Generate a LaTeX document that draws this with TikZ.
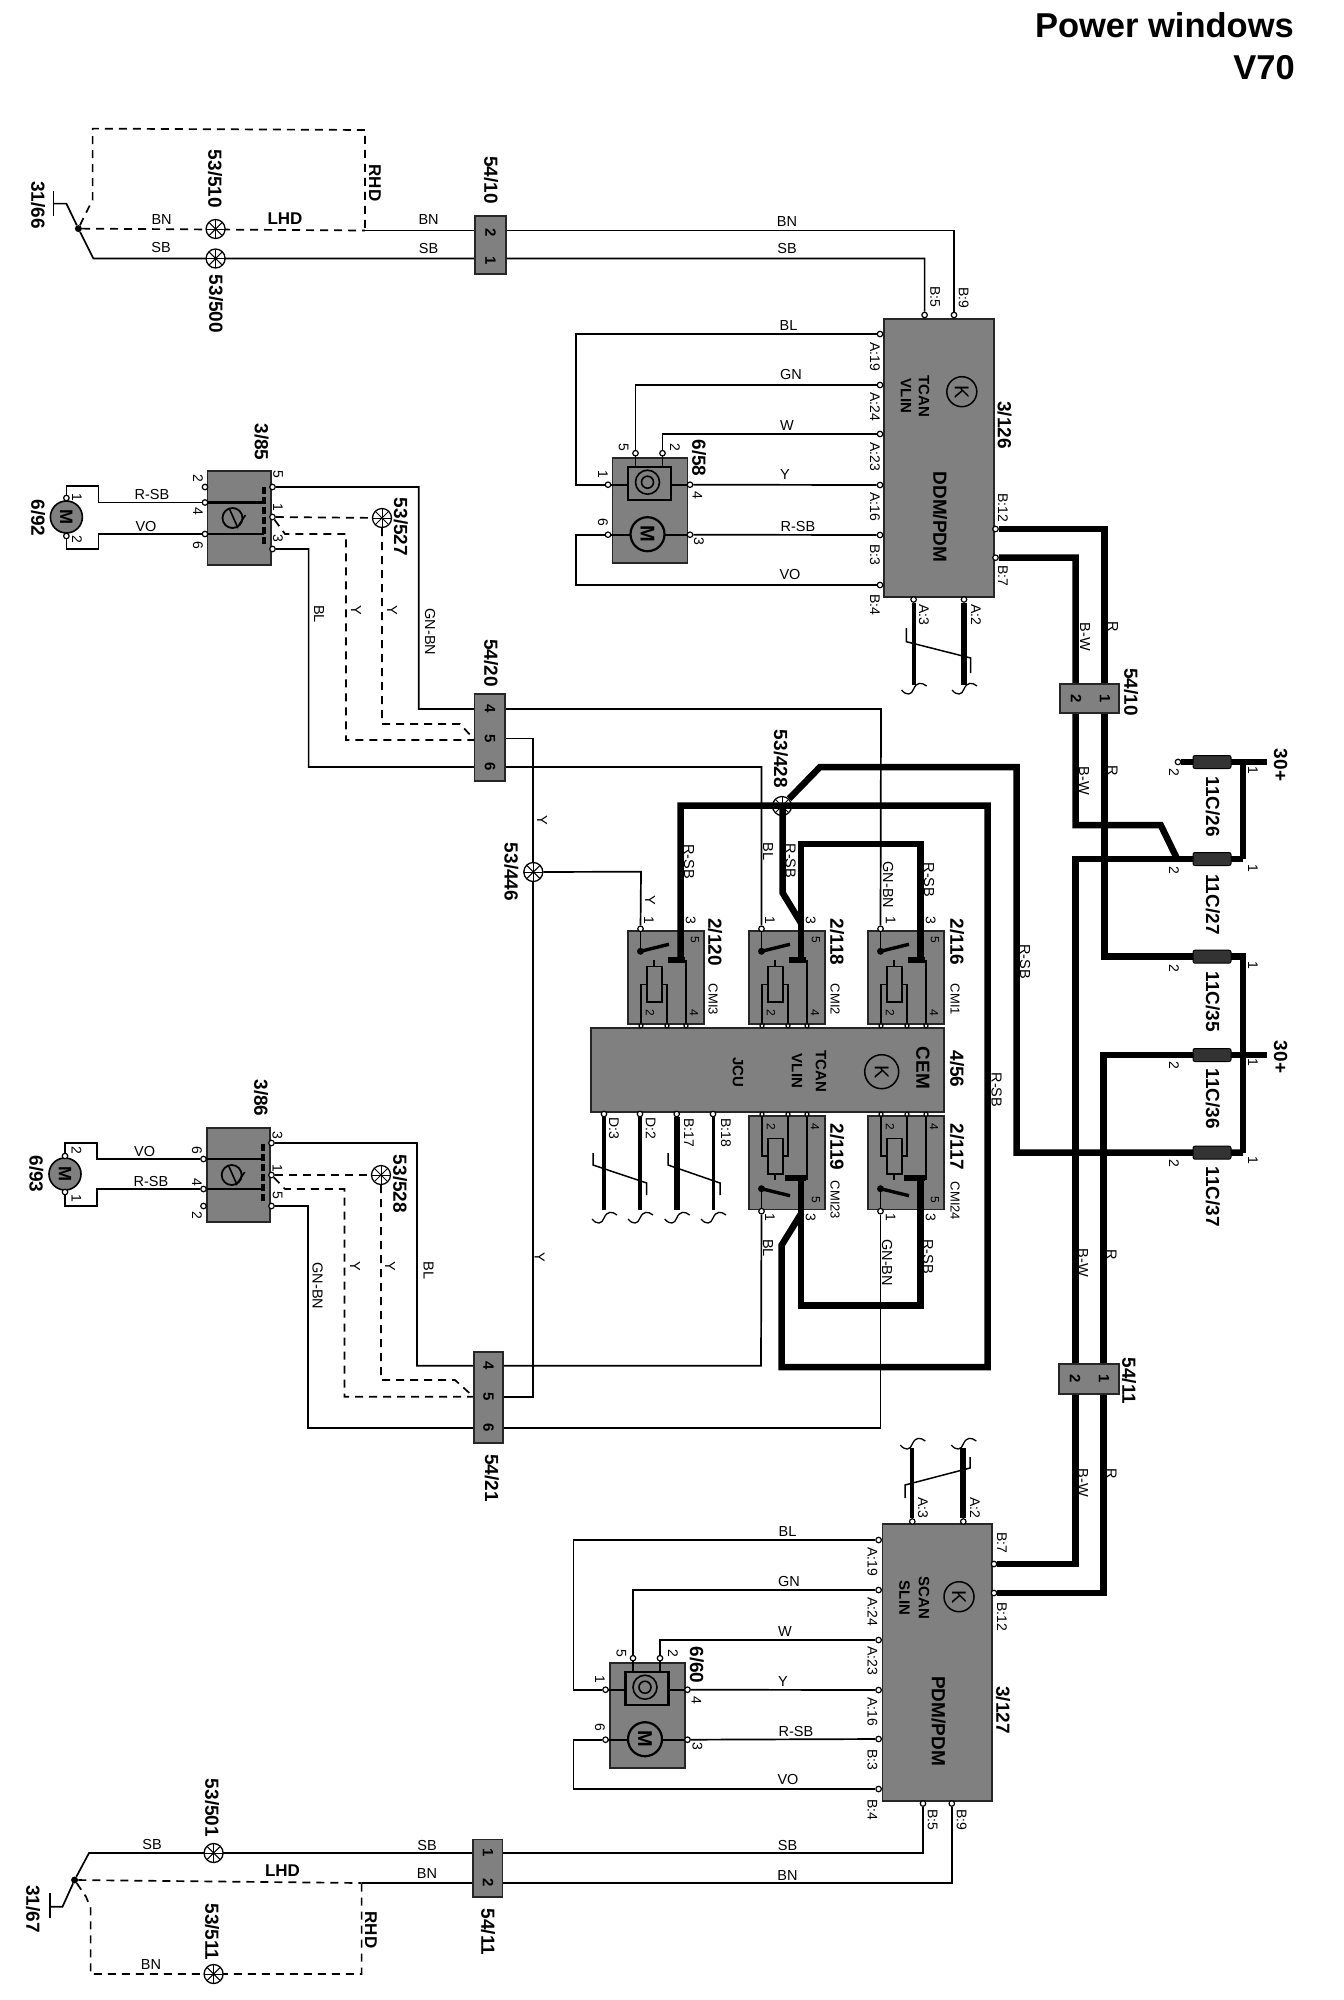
\documentclass[tikz,border=0pt]{standalone}
\usepackage{fontspec}
\setmainfont{Liberation Sans}
\pgfdeclarelayer{wires}\pgfdeclarelayer{toplayer}\pgfdeclarelayer{paper}
\pgfsetlayers{paper,wires,main,toplayer}
\newcounter{nn}
\tikzset{
 blab/.style={font=\bfseries\fontsize{19}{19}\selectfont,inner sep=0pt,rotate=-90},
 wlab/.style={font=\fontsize{14.5}{14.5}\selectfont,inner sep=0pt},
 hlab/.style={font=\bfseries\fontsize{17}{17}\selectfont,inner sep=0pt},
 plab/.style={font=\fontsize{14}{14}\selectfont,inner sep=0pt,rotate=-90},
 dlab/.style={font=\bfseries\fontsize{15}{15}\selectfont,inner sep=0pt,rotate=-90},
 mlab/.style={font=\bfseries\fontsize{15}{15}\selectfont,inner sep=0pt,rotate=-90},
 hatchbox/.style={draw=black!85,line width=1.6pt,fill=black!50,inner sep=0pt,outer sep=0pt,rectangle},
 pindot/.style={circle,draw=black,line width=1.2pt,fill=white,minimum size=5.5pt,inner sep=0pt},
 swdot/.style={circle,fill=black,minimum size=7pt,inner sep=0pt},
 splice/.style={circle,draw=black,line width=1.3pt,fill=white,minimum size=19pt,inner sep=0pt},
 wthin/.style={draw=black,line width=1.7pt,line join=miter},
 wdash/.style={draw=black,line width=1.7pt,dash pattern=on 8pt off 6pt},
 wfat/.style={draw=black,line width=6.5pt,line join=miter},
 inner/.style={draw=black,line width=1.6pt},
 innerfat/.style={draw=black,line width=3.4pt},
}
\newcommand\BL[3]{\stepcounter{nn}\node[blab] (t\number\value{nn}) at (#1,#2) {#3};}
\newcommand\WL[3]{\stepcounter{nn}\node[wlab] (t\number\value{nn}) at (#1,#2) {#3};}
\newcommand\WR[3]{\stepcounter{nn}\node[wlab,rotate=-90] (t\number\value{nn}) at (#1,#2) {#3};}
\newcommand\PL[3]{\stepcounter{nn}\node[plab] (t\number\value{nn}) at (#1,#2) {#3};}
\newcommand\DL[3]{\stepcounter{nn}\node[dlab] (t\number\value{nn}) at (#1,#2) {#3};}
\newcommand\ML[3]{\stepcounter{nn}\node[mlab] (t\number\value{nn}) at (#1,#2) {#3};}
\newcommand\boxn[5]{\pgfmathsetmacro\bw{#4-#2}\pgfmathsetmacro\bh{#5-#3}%
 \node[hatchbox,minimum width=\bw pt,minimum height=\bh pt,anchor=north west] (#1) at (#2,#3) {};}
\newcommand\pinn[3]{\node[pindot] (#1) at (#2,#3) {};}
\newcommand\splc[3]{\node[splice] (#1) at (#2,#3) {};
 \foreach \a in {0,45,90,135}{\draw[line width=1pt] ($(#1)+(\a:9pt)$) -- ($(#1)+(\a+180:9pt)$);}}
\newcommand\squig[2]{\draw[line width=1.3pt] (#1-12,#2+2) .. controls (#1-7,#2+8) and (#1-2,#2+7) .. (#1,#2+1) .. controls (#1+3,#2-6) and (#1+8,#2-6) .. (#1+13,#2-2);}
% relay: name, x0, y centre, flip
\newcommand\relay[4]{\pgfmathsetmacro\ry{#3-46.6}\boxn{#1}{#2}{\ry}{#2+76}{#3+46.6}
 \begin{scope}[shift={(#2,#3)},yscale=#4]
 \draw[inner] (12.5,-46) -- (12.5,-26);
 \draw[innerfat] (12.5,-26) -- (41,-33);
 \fill[black] (12.5,-26) circle (3.5pt);
 \draw[inner] (18.7,-11) rectangle (33.7,24.4);
 \draw[inner] (18.7,7) -- (13,7) -- (13,46);
 \draw[inner] (33.7,7) -- (39,7) -- (39,46);
 \draw[inner] (26,-11) -- (26,-17);
 \draw[inner] (58,-17) -- (58,46);
 \node[pindot] (#1a) at (12.5,-48.5) {};
 \node[pindot,minimum size=4pt] (#1b) at (13,48.5) {};
 \node[pindot,minimum size=4pt] (#1c) at (39,48.5) {};
 \node[pindot,minimum size=4pt] (#1d) at (58,48.5) {};
 \node[plab,font=\fontsize{12}{12}\selectfont] (#1e) at (22,36) {2};
 \node[plab,font=\fontsize{12}{12}\selectfont] (#1f) at (66,36) {4};
 \node[plab,font=\fontsize{12}{12}\selectfont] (#1g) at (67,-37) {5};
 \end{scope}}
% motor block: name,x0,ytop
\newcommand\motblock[3]{\pgfmathsetmacro\mb{#3+105}\boxn{#1}{#2}{#3}{#2+75}{\mb}
 \begin{scope}[shift={(#2,#3)}]
 \draw[line width=2.4pt] (15.5,9) rectangle (58.5,42);
 \draw[inner] (35,24.5) circle (12pt);
 \draw[inner] (35,24.5) circle (6pt);
 \draw[inner] (-2,27) -- (15.5,27);
 \draw[inner] (58.5,27) -- (77,27);
 \draw[inner] (23,-2) -- (23,9);
 \draw[inner] (50,-2) -- (50,9);
 \draw[inner] (-2,77) -- (77,77);
 \node[circle,draw=black,line width=2.2pt,fill=black!50,minimum size=34pt,inner sep=0pt,font=\bfseries\fontsize{20}{20}\selectfont,rotate=-90] (#1m) at (35,76.5) {M};
 \pinn{#1p5}{23}{-4.5}\pinn{#1p2}{50}{-4.5}\pinn{#1p1}{-4.5}{27}\pinn{#1p6}{-4.5}{77}\pinn{#1p4}{77.5}{27}\pinn{#1p3}{77.5}{77}
 \end{scope}}
% door switch: name,x0,ytop, y1,y2 (rel rows), 
\newcommand\winsw[5]{\pgfmathsetmacro\mb{#3+94}\boxn{#1}{#2}{#3}{#2+63.5}{\mb}
 \begin{scope}[shift={(#2,#3)}]
 \draw[line width=2.6pt] (0,#4) -- (56,#4);
 \draw[line width=2.6pt] (0,#5) -- (56,#5);
 \draw[line width=4pt,dash pattern=on 7pt off 3pt] (56,16) -- (56,76);
 \draw[line width=1.8pt] (25,47) circle (10pt);
 \draw[line width=1.6pt] (22,38) -- (30,56) -- (38,44);
 \end{scope}}
\usetikzlibrary{calc}
\begin{document}
\begin{tikzpicture}[x=1pt,y=-1pt]
\useasboundingbox (0,0) rectangle (1344,2000);
\begin{pgfonlayer}{paper}
\fill[white] (0,0) rectangle (1344,2000);
\end{pgfonlayer}

% ---------- boxes ----------
\boxn{c1}{475}{216}{506}{274}
\boxn{c20}{474.6}{694}{505}{781}
\boxn{c21}{473.8}{1351.7}{503}{1442.7}
\boxn{c11}{473}{1839.3}{502.5}{1896.7}
\boxn{ddm}{884}{319}{994}{596.7}
\boxn{pdm}{882.5}{1524}{992}{1800.7}
\boxn{cem}{591}{1027.7}{944}{1111.7}
\motblock{mA}{612.5}{457.7}
\motblock{mB}{610}{1662.7}
\winsw{swA}{207.5}{471}{31.5}{63}
\winsw{swB}{206.7}{1128}{31}{61}
\relay{rA}{628}{977.3}{1}
\relay{rB}{749}{977.3}{1}
\relay{rC}{868}{977.3}{1}
\relay{rD}{749}{1162.7}{-1}
\relay{rE}{868}{1162.7}{-1}

% ---------- splices and dots ----------
\splc{s510}{215.6}{229}
\splc{s500}{215.6}{258.5}
\splc{s527}{382}{518}
\splc{s528}{381}{1175}
\splc{s446}{533.3}{872}
\splc{s428}{782}{806}
\splc{s501}{213.6}{1853}
\splc{s511}{213.6}{1974}
\node[swdot] (swt) at (78.4,228.6) {};
\node[swdot] (swb) at (74.6,1880) {};

% ---------- motors ----------
\node[circle,draw=black,line width=1.6pt,fill=black!50,minimum size=32pt,inner sep=0pt,font=\bfseries\fontsize{18}{18}\selectfont,rotate=-90] (m92) at (66.4,517) {M};
\node[circle,draw=black,line width=1.6pt,fill=black!50,minimum size=32pt,inner sep=0pt,font=\bfseries\fontsize{18}{18}\selectfont,rotate=-90] (m93) at (65,1174) {M};

% ---------- pins ----------
\pinn{p92a}{66.4}{498}\pinn{p92b}{66.4}{536}
\pinn{p93a}{65}{1156}\pinn{p93b}{65}{1192}
\pinn{a2}{205}{487}\pinn{a4}{205}{502.5}\pinn{a6}{205}{534}
\pinn{a5}{272.5}{487}\pinn{a1}{272.5}{517}\pinn{a3}{272.5}{549}
\pinn{b6}{203.5}{1159}\pinn{b4}{203.5}{1189}\pinn{b2}{203.5}{1206}
\pinn{b3}{271.5}{1143}\pinn{b1}{271.5}{1175}\pinn{b5}{271.5}{1206}
\pinn{dA19}{880}{334}\pinn{dA24}{880}{385}\pinn{dA23}{880}{434}\pinn{dA16}{880}{485}\pinn{dB3}{880}{535}\pinn{dB4}{880}{585}
\pinn{dB5}{924.6}{315}\pinn{dB9}{954}{315}\pinn{dA3}{913.6}{599.5}\pinn{dA2}{964}{599.5}
\pinn{dB12}{995.5}{529}\pinn{dB7}{995.5}{557.7}
\pinn{eA19}{878.6}{1540}\pinn{eA24}{878.6}{1590}\pinn{eA23}{878.6}{1640}\pinn{eA16}{878.6}{1690}\pinn{eB3}{878.6}{1739}\pinn{eB4}{878.6}{1789}
\pinn{eB5}{923}{1803.5}\pinn{eB9}{951.8}{1803.5}\pinn{eA3}{912.3}{1521.5}\pinn{eA2}{963.3}{1521.5}
\pinn{eB7}{994}{1564}\pinn{eB12}{994}{1593}
\pinn{cD3}{604}{1114}\pinn{cD2}{640}{1114}\pinn{cB17}{676.7}{1114}\pinn{cB18}{713}{1114}

\begin{pgfonlayer}{wires}
 % top harness
 \coordinate (stA) at (53.6,203.6);
 \draw[wthin] (stA) -- (66.4,203.6) -- (swt) -- (93.4,258.5) -- (924.6,258.5) -- (dB5);
 \draw[wthin] (53.6,191) -- (stA) -- (53.6,216);
 \draw[wthin] (365,230.5) -- (954,230.5) -- (dB9);
 \draw[wdash] (swt) -- (365,230.5);
 \draw[wdash] (swt) -- (84.4,216) -- (92.6,200) -- (92.6,128.6) -- (365,130) -- (365,230.5);
 % bottom harness
 \coordinate (stB) at (49.7,1906.7);
 \draw[wthin] (stB) -- (62.5,1906.7) -- (swb) -- (89,1853) -- (923,1853) -- (eB5);
 \draw[wthin] (49.7,1893) -- (stB) -- (49.7,1918);
 \draw[wthin] (361.6,1883) -- (951.8,1883) -- (eB9);
 \draw[wdash] (swb) -- (361.6,1883);
 \draw[wdash] (swb) -- (86,1896.7) -- (90.6,1908) -- (90.6,1974) -- (361.6,1974) -- (361.6,1883);
 % window motors left
 \draw[wthin] (p92a) -- (66.4,486) -- (98.6,486) -- (98.6,502.5) -- (a4);
 \draw[wthin] (p92b) -- (66.4,549) -- (98.6,549) -- (98.6,534) -- (a6);
 \draw[wthin] (p93a) -- (65,1142.7) -- (96.8,1142.7) -- (96.8,1159) -- (b6);
 \draw[wthin] (p93b) -- (65,1205.7) -- (96.8,1205.7) -- (96.8,1189) -- (b4);
 % 3/85 to 54/20
 \draw[wthin] (a5) -- (418.8,487) -- (418.8,709) -- (881,709) -- (rCa);
 \draw[wthin] (a3) -- (308.6,549) -- (308.6,767) -- (761.4,767) -- (rBa);
 \draw[wdash] (a1) -- (s527);
 \draw[wdash] (s527) -- (382,724) -- (460,724) -- (474,739);
 \draw[wdash] (a1) -- (285,534) -- (346,534) -- (346,740) -- (474,740);
 % 54/20 to 54/21 Y
 \draw[wthin] (505,738.5) -- (533.3,738.5) -- (533.3,1397) -- (503,1397);
 \draw[wthin] (s446) -- (641,871.7) -- (rAa);
 % 3/86 to 54/21
 \draw[wthin] (b3) -- (417,1143) -- (417,1365.7) -- (761,1365.7) -- (rDa);
 \draw[wthin] (b5) -- (308,1206) -- (308,1428) -- (880.5,1428) -- (rEa);
 \draw[wdash] (b1) -- (s528);
 \draw[wdash] (s528) -- (381,1380) -- (455,1380) -- (473.8,1397);
 \draw[wdash] (b1) -- (285,1189) -- (344.4,1189) -- (344.4,1396.7) -- (473.8,1396.7);
 % module 3/126
 \draw[wthin] (dA19) -- (576,334) -- (576,484.7) -- (mAp1);
 \draw[wthin] (dA24) -- (635.5,385) -- (mAp5);
 \draw[wthin] (dA23) -- (662.5,434) -- (mAp2);
 \draw[wthin] (dA16) -- (mAp4);
 \draw[wthin] (dB3) -- (mAp3);
 \draw[wthin] (dB4) -- (576,585) -- (576,534.7) -- (mAp6);
 % module 3/127
 \draw[wthin] (eA19) -- (573.6,1540) -- (573.6,1689.7) -- (mBp1);
 \draw[wthin] (eA24) -- (633,1590) -- (mBp5);
 \draw[wthin] (eA23) -- (660,1640) -- (mBp2);
 \draw[wthin] (eA16) -- (mBp4);
 \draw[wthin] (eB3) -- (mBp3);
 \draw[wthin] (eB4) -- (573.6,1789) -- (573.6,1739.7) -- (mBp6);
\end{pgfonlayer}

\begin{pgfonlayer}{toplayer}
 % CEM lower leads
 \draw[black,line width=4pt] (cD3) -- (604,1210);
 \draw[black,line width=4pt] (cD2) -- (640,1210);
 \draw[black,line width=6pt] (cB17) -- (676.7,1210);
 \draw[black,line width=3pt] (cB18) -- (713,1210);
 \squig{604}{1217}\squig{640}{1217}\squig{676.7}{1217}\squig{713}{1217}
 \draw[line width=1.5pt] (593,1153) -- (593,1165) -- (646.7,1183) -- (646.7,1195);
 \draw[line width=1.5pt] (668,1153) -- (668,1165) -- (720,1183) -- (720,1195);
 % door modules leads
 \draw[black,line width=4pt] (dA3) -- (913.6,685);
 \draw[black,line width=6pt] (dA2) -- (964,685);
 \squig{913.6}{688}\squig{964}{688}
 \draw[line width=1.5pt] (906.4,628) -- (906.4,641.7) -- (970.7,658) -- (970.7,673);
 \draw[black,line width=4pt] (eA3) -- (912.3,1448);
 \draw[black,line width=6pt] (eA2) -- (963.3,1448);
 \squig{912.3}{1443}\squig{963.3}{1443}
 \draw[line width=1.5pt] (905,1498) -- (905,1485) -- (970,1468) -- (970,1457);
 % power feeds
 \draw[wfat] (680.7,962) -- (680.7,805.7) -- (987.7,805.7) -- (987.7,1367) -- (781.7,1367) -- (781.7,1245) -- (801.5,1213);
 \draw[wfat] (s428) -- (820,767) -- (1016.7,767) -- (1016.7,1152.7) -- (1243,1152.7);
 \draw[wfat] (782.7,806) -- (782.7,893) -- (801,923);
 \draw[wfat] (801,962) -- (801,844) -- (920.7,844) -- (920.7,962);
 \draw[wfat] (801,1176) -- (801,1305.7) -- (920.7,1305.7) -- (920.7,1176);
 \foreach \xa/\xb/\yy in {668/685/960,789/806/960,908/925/960,785/806/1178,904/925/1178}{\fill (\xa,\yy-3) rectangle (\xb,\yy+3);}
 \draw[wfat] (dB12) -- (1104.6,529) -- (1104.6,956.7) -- (1243,956.7) -- (1243,1152.7);
 \draw[wfat] (dB7) -- (1075.5,557.7) -- (1075.5,825) -- (1160.7,825) -- (1176.7,858);
 \draw[wfat] (1243,859) -- (1075.5,859) -- (1075.5,1564) -- (eB7);
 \draw[wfat] (1266.7,1055) -- (1103.5,1055) -- (1103.5,1593) -- (eB12);
 \node[pindot] (p26) at (1178,762) {};
 \coordinate (f30a) at (1266.7,762);
 \draw[wfat] (p26) -- (f30a);
 \draw[wfat] (1243,762) -- (1243,859);
 % fuses
 \foreach \n/\yy in {f26/762,f27/859,f35/956.7,f36/1055,f37/1152.7}{
  \node[rectangle,rounded corners=2pt,fill=black!80,draw=black,line width=1pt,minimum width=38pt,minimum height=13pt,inner sep=0pt] (\n) at (1212,\yy) {};}
 % inline connector boxes on fat wires
 \boxn{c10c}{1060}{684}{1119}{713}
 \boxn{c11c}{1059}{1364}{1119}{1394}
 \DL{1076}{698.5}{2}\DL{1105}{698.5}{1}
 \DL{1075}{1379}{2}\DL{1104}{1379}{1}
\end{pgfonlayer}

% ---------- texts ----------
\node[font=\bfseries\fontsize{34.5}{34.5}\selectfont,inner sep=0pt,anchor=east] (ttl1) at (1294,25) {Power windows};
\node[font=\bfseries\fontsize{34.5}{34.5}\selectfont,inner sep=0pt,anchor=east] (ttl2) at (1295,67.5) {V70};

\BL{38}{205}{31/66}\BL{215}{179}{53/510}\BL{216}{304}{53/500}\BL{491}{180}{54/10}
\BL{261.5}{442}{3/85}\BL{38}{518}{6/92}\BL{400.7}{527}{53/527}\BL{491}{663}{54/20}
\BL{780.7}{759}{53/428}\BL{511.4}{872}{53/446}\BL{261}{1098}{3/86}\BL{36.4}{1174}{6/93}
\BL{400}{1184}{53/528}\BL{491.8}{1478}{54/21}\BL{1004.6}{425}{3/126}\BL{699}{458}{6/58}
\BL{1131}{692}{54/10}\BL{1129}{1381}{54/11}\BL{1003}{1710}{3/127}\BL{696.8}{1665}{6/60}
\BL{212}{1808}{53/501}\BL{212}{1932}{53/511}\BL{488}{1932}{54/11}\BL{33}{1909}{31/67}
\BL{715}{942}{2/120}\BL{837}{942}{2/118}\BL{957}{942}{2/116}\BL{957}{1069}{4/56}
\BL{837}{1147}{2/119}\BL{957}{1147}{2/117}
\BL{1212.7}{807}{11C/26}\BL{1212.7}{904.5}{11C/27}\BL{1212.7}{1002}{11C/35}\BL{1212.7}{1099}{11C/36}\BL{1212.7}{1197}{11C/37}
\BL{1280.7}{765}{30+}\BL{1280.7}{1057}{30+}
\BL{940}{517}{DDM/PDM}\BL{938.6}{1721}{PDM/PDM}\BL{923}{1068}{CEM}

\stepcounter{nn}\node[hlab] (t\number\value{nn}) at (285,219) {LHD};
\stepcounter{nn}\node[hlab,rotate=-90] (t\number\value{nn}) at (375,183) {RHD};
\stepcounter{nn}\node[hlab] (t\number\value{nn}) at (282.5,1870.7) {LHD};
\stepcounter{nn}\node[hlab,rotate=-90] (t\number\value{nn}) at (371,1930) {RHD};

\WL{161.6}{219.6}{BN}\WL{161}{248}{SB}\WL{428.6}{220}{BN}\WL{428.6}{249}{SB}\WL{787}{222}{BN}\WL{787}{249}{SB}
\WL{152}{1844}{SB}\WL{427}{1845}{SB}\WL{787.5}{1845.7}{SB}\WL{427}{1873}{BN}\WL{787.5}{1875}{BN}\WL{151}{1964}{BN}
\WL{152}{495}{R-SB}\WL{146}{526}{VO}\WL{144.7}{1151}{VO}\WL{151}{1181.7}{R-SB}
\WR{319}{614}{BL}\WR{356}{610}{Y}\WR{392}{610}{Y}\WR{430}{632}{GN-BN}
\WR{542}{820}{Y}\WR{650}{900.7}{Y}
\WR{317.6}{1286}{GN-BN}\WR{355}{1266.7}{Y}\WR{390}{1266.7}{Y}\WR{428.6}{1270.7}{BL}\WR{539.6}{1257.7}{Y}
\WL{788.6}{325.7}{BL}\WL{791}{375}{GN}\WL{787}{426}{W}\WL{785}{475}{Y}\WL{798}{526}{R-SB}\WL{790}{574}{VO}
\WL{787.5}{1531.7}{BL}\WL{789}{1581}{GN}\WL{785}{1631.7}{W}\WL{783}{1681.7}{Y}\WL{796}{1731}{R-SB}\WL{788}{1779}{VO}
\WR{689}{861.7}{R-SB}\WR{768}{851.7}{BL}\WR{790.7}{861}{R-SB}\WR{888}{885}{GN-BN}\WR{929}{880}{R-SB}
\WR{768}{1248}{BL}\WR{887}{1262.7}{GN-BN}\WR{928}{1256.7}{R-SB}
\WR{1025}{961.7}{R-SB}\WR{996.7}{1090}{R-SB}
\WR{1085}{636.7}{B-W}\WR{1113}{626.7}{R}\WR{1084}{780.7}{B-W}\WR{1112.7}{770.7}{R}
\WR{1083}{1263}{B-W}\WR{1111.7}{1255}{R}\WR{1083}{1483}{B-W}\WR{1111.7}{1474}{R}

% pin labels
\PL{875}{356.7}{A:19}\PL{875}{407}{A:24}\PL{875}{456.7}{A:23}\PL{875}{506.7}{A:16}\PL{875}{555}{B:3}\PL{875}{605}{B:4}
\PL{935}{296.7}{B:5}\PL{963.6}{298}{B:9}\PL{924}{615}{A:3}\PL{976}{615}{A:2}\PL{1003}{508}{B:12}\PL{1003}{576}{B:7}
\PL{872.5}{1561.7}{A:19}\PL{872.5}{1611.7}{A:24}\PL{872.5}{1661}{A:23}\PL{872.5}{1711.7}{A:16}\PL{872.5}{1760}{B:3}\PL{872.5}{1810}{B:4}
\PL{932.5}{1820}{B:5}\PL{961.8}{1820}{B:9}\PL{1002}{1542.7}{B:7}\PL{1002}{1616.7}{B:12}\PL{923}{1508}{A:3}\PL{975}{1508}{A:2}
\PL{614}{1128}{D:3}\PL{650.7}{1128}{D:2}\PL{689}{1133}{B:17}\PL{726}{1133}{B:18}
\PL{198}{478.6}{2}\PL{198}{511}{4}\PL{198}{545}{6}\PL{278}{474}{5}\PL{278}{507}{1}\PL{278}{538.6}{3}
\PL{197}{1150}{6}\PL{197}{1182}{4}\PL{197}{1215}{2}\PL{277.5}{1135}{3}\PL{277.5}{1168}{1}\PL{277.5}{1195}{5}
\PL{77}{497}{1}\PL{77}{539}{2}\PL{76.5}{1150}{2}\PL{76.5}{1198}{1}
\PL{623.6}{447}{5}\PL{675}{447}{2}\PL{603}{474}{1}\PL{603}{522}{6}\PL{697.5}{495}{4}\PL{699}{541.7}{3}
\PL{621.4}{1653}{5}\PL{673}{1653}{2}\PL{600}{1679}{1}\PL{600}{1727}{6}\PL{696.4}{1700}{4}\PL{697.5}{1746.7}{3}
\PL{649}{920}{1}\PL{690.7}{920}{3}\PL{770}{920}{1}\PL{810.7}{920}{3}\PL{890.7}{920}{1}\PL{930.7}{920}{3}
\PL{770}{1217}{1}\PL{810.7}{1217}{3}\PL{890.7}{1217}{1}\PL{930.7}{1217}{3}
\PL{1174}{772.7}{2}\PL{1253}{770.7}{1}\PL{1174}{870}{2}\PL{1253}{868}{1}\PL{1174}{968}{2}\PL{1253}{965}{1}\PL{1174}{1065.7}{2}\PL{1253}{1062.7}{1}\PL{1174}{1163}{2}\PL{1253}{1160}{1}
\stepcounter{nn}\node[plab,font=\fontsize{13}{13}\selectfont] (t\number\value{nn}) at (713,999.5) {CMI3};
\stepcounter{nn}\node[plab,font=\fontsize{13}{13}\selectfont] (t\number\value{nn}) at (835,999.5) {CMI2};
\stepcounter{nn}\node[plab,font=\fontsize{13}{13}\selectfont] (t\number\value{nn}) at (955,999.5) {CMI1};
\stepcounter{nn}\node[plab,font=\fontsize{13}{13}\selectfont] (t\number\value{nn}) at (835,1200) {CMI23};
\stepcounter{nn}\node[plab,font=\fontsize{13}{13}\selectfont] (t\number\value{nn}) at (955,1201) {CMI24};

% digits in connector blocks
\DL{490.5}{233}{2}\DL{490.5}{261}{1}
\DL{490}{709}{4}\DL{490}{738.5}{5}\DL{490}{767}{6}
\DL{488.5}{1366}{4}\DL{488.5}{1397}{5}\DL{488.5}{1428}{6}
\DL{488}{1853}{1}\DL{488}{1883}{2}

% module symbols
\foreach \n/\xx/\yy/\rr in {kA/961.8/391.7/30,kB/959/1596.7/30,kC/881.7/1071.7/34}{
 \node[circle,draw=black,line width=1.5pt,minimum size=\rr pt,inner sep=0pt,rotate=-90,font=\fontsize{20}{20}\selectfont] (\n) at (\xx,\yy) {K};}
\ML{924}{396}{TCAN}\ML{906}{396}{VLIN}
\ML{924}{1598}{SCAN}\ML{904.6}{1598}{SLIN}
\ML{821}{1071}{TCAN}\ML{797}{1071}{VLIN}\ML{738}{1072}{JCU}
\end{tikzpicture}
\end{document}
